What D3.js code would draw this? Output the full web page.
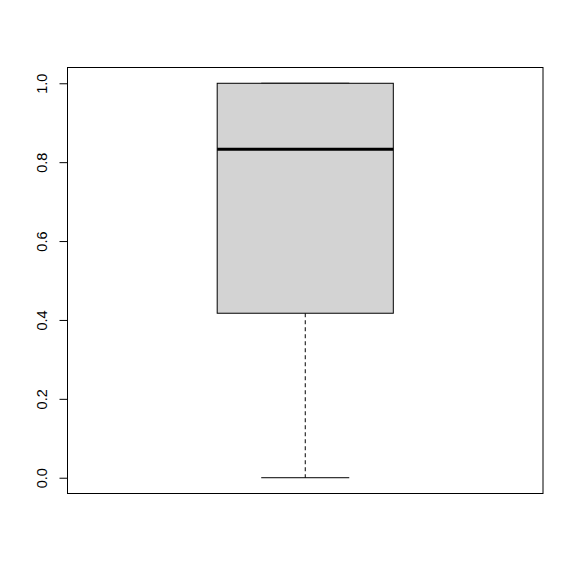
<!DOCTYPE html>
<html>
<head>
<meta charset="utf-8">
<script src="https://cdn.jsdelivr.net/npm/d3@7"></script>
<style>
  body { margin: 0; background: #fff; }
  text { font-family: "Liberation Sans", Arial, sans-serif; }
</style>
</head>
<body>
<svg id="chart" width="578" height="578"></svg>
<script>
// five-number summary
const stats = { min: 0, q1: 0.417, median: 0.833, q3: 1.0, max: 1.0 };
const yTicks = [0, 0.2, 0.4, 0.6, 0.8, 1.0];

const margin = { top: 67.5, right: 35, bottom: 84.5, left: 67.5 };
const width = 578, height = 578;
const svg = d3.select('#chart');

// R extends the data range by 4% on each side
const y = d3.scaleLinear()
  .domain([-0.04, 1.04])
  .range([height - margin.bottom, margin.top]);
const x = d3.scaleLinear()
  .domain([0.46, 1.54])
  .range([margin.left, width - margin.right]);

const boxHalf = 0.2, capHalf = 0.1;
const g = svg.append('g');

// whiskers (dashed)
g.append('line')
  .attr('x1', x(1)).attr('x2', x(1))
  .attr('y1', y(stats.q1)).attr('y2', y(stats.min))
  .attr('stroke', '#000').attr('stroke-dasharray', '4,3');
g.append('line')
  .attr('x1', x(1)).attr('x2', x(1))
  .attr('y1', y(stats.q3)).attr('y2', y(stats.max))
  .attr('stroke', '#000').attr('stroke-dasharray', '4,3');

// staples
[stats.min, stats.max].forEach(v => {
  g.append('line')
    .attr('x1', x(1 - capHalf)).attr('x2', x(1 + capHalf))
    .attr('y1', y(v)).attr('y2', y(v))
    .attr('stroke', '#000');
});

// box
g.append('rect')
  .attr('x', x(1 - boxHalf))
  .attr('y', y(stats.q3))
  .attr('width', x(1 + boxHalf) - x(1 - boxHalf))
  .attr('height', y(stats.q1) - y(stats.q3))
  .attr('fill', '#d3d3d3')
  .attr('stroke', '#000');

// median
g.append('line')
  .attr('x1', x(1 - boxHalf)).attr('x2', x(1 + boxHalf))
  .attr('y1', y(stats.median)).attr('y2', y(stats.median))
  .attr('stroke', '#000').attr('stroke-width', 3);

// plot frame
svg.append('rect')
  .attr('x', margin.left).attr('y', margin.top)
  .attr('width', width - margin.left - margin.right)
  .attr('height', height - margin.top - margin.bottom)
  .attr('fill', 'none').attr('stroke', '#000');

// y axis
const axis = svg.append('g')
  .attr('transform', `translate(${margin.left},0)`)
  .call(d3.axisLeft(y).tickValues(yTicks).tickSize(8).tickFormat(d3.format('.1f')));
axis.select('.domain').remove();
axis.selectAll('.tick line').attr('stroke', '#000');
axis.selectAll('.tick text')
  .attr('x', 0).attr('dy', null)
  .attr('text-anchor', 'middle')
  .attr('transform', 'translate(-24,0) rotate(-90)')
  .attr('dominant-baseline', 'middle')
  .attr('font-size', 14.5)
  .attr('fill', '#000');
</script>
</body>
</html>
